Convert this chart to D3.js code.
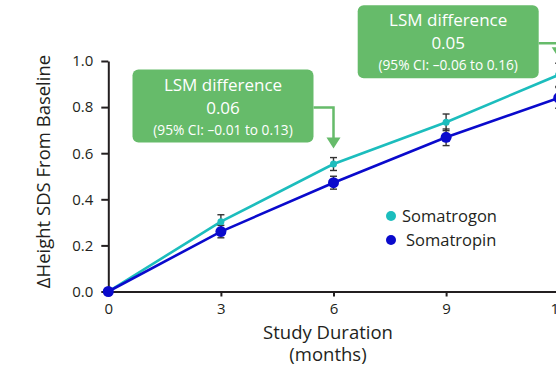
<!DOCTYPE html>
<html lang="en">
<head>
<meta charset="utf-8">
<script src="https://d3js.org/d3.v7.min.js"></script>
<style type="text/css">
body {
	margin: 0;
	background: #fff;
	font-family: "Open Sans", sans-serif;
}
.axis path, .axis line {
	stroke: #231f20;
	stroke-width: 2px;
}
.axis text {
	font-family: "Open Sans", sans-serif;
	font-size: 15px;
	fill: #231f20;
}
</style>
</head>
<body>
<script type="text/javascript">

// Visit months and mean change in height SDS
var months = [0, 3, 6, 9, 12];
var somatrogon = [0, 0.303, 0.553, 0.734, 0.94];
var somatrogonErr = [0, 0.03, 0.028, 0.036, 0.05];
var somatropin = [0, 0.26, 0.472, 0.669, 0.84];
var somatropinErr = [0, 0.027, 0.028, 0.036, 0.045];

var xTicks = [0, 3, 6, 9, 12];
var yTicks = [0, 0.2, 0.4, 0.6, 0.8, 1.0];

// LSM difference call-outs, pinned to a visit month
var noteMonths = [6, 12];
var noteValues = ["0.06", "0.05"];
var noteCIs = ["(95% CI: \u20130.01 to 0.13)", "(95% CI: \u20130.06 to 0.16)"];

var width = 556;
var height = 367;

var green = "#66bb6a";
var cyan = "#1cbdbd";
var blue = "#0a0acc";

var x = d3.scaleLinear().domain([0, 12]).range([108.3, 558.7]);
var y = d3.scaleLinear().domain([0, 1]).range([291.5, 61]);

var svg = d3.select("body")
			.append("svg")
			.attr("width", width)
			.attr("height", height);

// Axes
svg.append("g")
   .attr("class", "axis")
   .attr("transform", "translate(0," + y(0) + ")")
   .call(d3.axisBottom(x).tickValues(xTicks).tickSize(5).tickSizeOuter(0).tickFormat(d3.format("d")))
   .call(function(g) { g.selectAll("text").attr("y", 9).attr("dy", "0.9em"); });

svg.append("g")
   .attr("class", "axis")
   .attr("transform", "translate(" + x(0) + ",0)")
   .call(d3.axisLeft(y).tickValues(yTicks).tickSize(7).tickSizeOuter(0).tickFormat(d3.format(".1f")))
   .call(function(g) { g.selectAll("text").attr("x", -15); });

// Axis titles
svg.append("text")
   .attr("x", 328)
   .attr("y", 339)
   .attr("text-anchor", "middle")
   .style("font-size", "18.5px")
   .style("fill", "#231f20")
   .text("Study Duration");

svg.append("text")
   .attr("x", 328)
   .attr("y", 361)
   .attr("text-anchor", "middle")
   .style("font-size", "18.5px")
   .style("fill", "#231f20")
   .text("(months)");

svg.append("text")
   .attr("transform", "translate(50," + 171.5 + ") rotate(-90)")
   .attr("text-anchor", "middle")
   .style("font-size", "18.5px")
   .style("fill", "#231f20")
   .text("\u0394Height SDS From Baseline");

// Series
var series = [
  { name: "Somatrogon", values: somatrogon, err: somatrogonErr, color: cyan, r: 3.5 },
  { name: "Somatropin", values: somatropin, err: somatropinErr, color: blue, r: 5.5 }
];

var line = d3.line()
			 .x(function(d, i) { return x(months[i]); })
			 .y(function(d) { return y(d); });

series.forEach(function(s) {
  svg.append("path")
     .datum(s.values)
     .attr("d", line)
     .style("fill", "none")
     .style("stroke", s.color)
     .style("stroke-width", 2.6);
});

// Error bars
series.forEach(function(s) {
  var g = svg.append("g").attr("class", "err");
  months.forEach(function(m, i) {
    if (!s.err[i]) return;
    var cx = x(m), top = y(s.values[i] + s.err[i]), bot = y(s.values[i] - s.err[i]);
    g.append("line").attr("x1", cx).attr("x2", cx).attr("y1", top).attr("y2", bot)
     .style("stroke", "#333").style("stroke-width", 1.4);
    [top, bot].forEach(function(yy) {
      g.append("line").attr("x1", cx - 3.5).attr("x2", cx + 3.5).attr("y1", yy).attr("y2", yy)
       .style("stroke", "#333").style("stroke-width", 1.4);
    });
  });
});

// Markers
series.forEach(function(s) {
  svg.selectAll(null)
     .data(s.values)
     .enter()
     .append("circle")
     .attr("cx", function(d, i) { return x(months[i]); })
     .attr("cy", function(d) { return y(d); })
     .attr("r", s.r)
     .style("fill", s.color);
});

// Legend
var legend = svg.selectAll(".legend")
				.data(series)
				.enter()
				.append("g")
				.attr("class", "legend")
				.attr("transform", function(d, i) { return "translate(391," + (216 + i * 24) + ")"; });

legend.append("circle")
	  .attr("r", 5)
	  .style("fill", function(d) { return d.color; });

legend.append("text")
	  .attr("x", function(d, i) { return i ? 15 : 11; })
	  .attr("y", 5.5)
	  .style("font-size", "16.5px")
	  .style("fill", "#231f20")
	  .text(function(d) { return d.name; });

// LSM difference boxes with elbow arrows
noteMonths.forEach(function(m, k) {
  var i = months.indexOf(m);
  var ax = x(m);
  var errTop = y(somatrogon[i] + somatrogonErr[i]);
  var boxW = 181, boxH = 73;
  var right = ax - 20;
  var left = right - boxW;
  var top = k === 0 ? errTop - 88 : errTop - 58;
  var elbowY = top + 38;
  var tipY = errTop - (k === 0 ? 9 : 5);

  svg.append("path")
     .attr("d", "M" + right + "," + elbowY + "H" + ax + "V" + (tipY - 9))
     .style("fill", "none")
     .style("stroke", green)
     .style("stroke-width", 2.5);

  svg.append("path")
     .attr("d", "M" + (ax - 7) + "," + (tipY - 11) + "L" + (ax + 7) + "," + (tipY - 11) + "L" + ax + "," + tipY + "Z")
     .style("fill", green);

  svg.append("rect")
     .attr("x", left)
     .attr("y", top)
     .attr("width", boxW)
     .attr("height", boxH)
     .attr("rx", 6)
     .style("fill", green);

  var cx = left + boxW / 2;
  svg.append("text").attr("x", cx).attr("y", top + 21).attr("text-anchor", "middle")
     .style("font-size", "17px").style("fill", "#fff").text("LSM difference");
  svg.append("text").attr("x", cx).attr("y", top + 44).attr("text-anchor", "middle")
     .style("font-size", "17px").style("fill", "#fff").text(noteValues[k]);
  svg.append("text").attr("x", cx).attr("y", top + 65).attr("text-anchor", "middle")
     .style("font-size", "13.7px").style("fill", "#fff").text(noteCIs[k]);
});

</script>
</body>
</html>
